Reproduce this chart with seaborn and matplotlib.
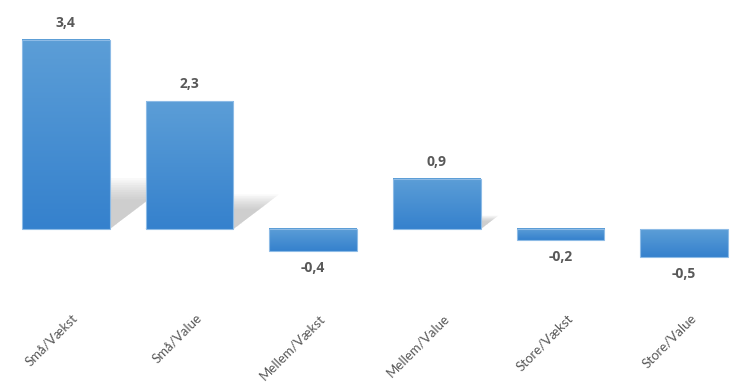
import numpy as np
import matplotlib
matplotlib.use("Agg")
import matplotlib.pyplot as plt
import matplotlib.transforms as mtransforms
from matplotlib.colors import LinearSegmentedColormap
from matplotlib.patches import Polygon
import seaborn as sns

categories = ["Små/Vækst", "Små/Value", "Mellem/Vækst", "Mellem/Value", "Store/Vækst", "Store/Value"]
values = [3.4, 2.3, -0.4, 0.9, -0.2, -0.5]
value_labels = ["3,4", "2,3", "-0,4", "0,9", "-0,2", "-0,5"]

sns.set_style("white")
plt.rcParams["font.family"] = ["Lato", "DejaVu Sans"]

fig = plt.figure(figsize=(7.5, 3.84), dpi=100)
ax = fig.add_axes([4 / 750, 94 / 384, 742 / 750, 280 / 384])

sns.barplot(x=categories, y=values, color="#5B9BD5", width=0.71, ax=ax,
            edgecolor="#8DBBE6", linewidth=0.8, zorder=3)

bar_cmap = LinearSegmentedColormap.from_list("bar", ["#5C9ED7", "#3581CD"])
grad = np.linspace(0, 1, 256).reshape(-1, 1)

for patch, v in zip(ax.patches, values):
    x0 = patch.get_x()
    w = patch.get_width()
    y_lo, y_hi = sorted([patch.get_y(), patch.get_y() + patch.get_height()])
    # gradient fill, lighter at the top
    ax.imshow(grad, extent=[x0, x0 + w, y_lo, y_hi], aspect="auto",
              cmap=bar_cmap, origin="upper", zorder=2.5, clip_path=patch)
    patch.set_facecolor("none")
    # soft perspective shadow behind positive bars (stacked layers = blur)
    if v > 0:
        for k in range(10):
            f = 1.08 - 0.05 * k
            hs, dx = 0.25 * v * f, 0.148 * v * f
            ax.add_patch(Polygon([(x0, 0), (x0 + w, 0), (x0 + w + dx, hs), (x0 + dx, hs)],
                                 closed=True, facecolor="#9a9a9a", edgecolor="none",
                                 alpha=0.06, zorder=1))

for i, (v, lab) in enumerate(zip(values, value_labels)):
    off = 7 if v > 0 else -7
    ax.annotate(lab, (i, v), xytext=(0, off), textcoords="offset points",
                ha="center", va="bottom" if v > 0 else "top",
                fontsize=10, fontweight="bold", color="#595959",
                family=["Open Sans", "DejaVu Sans"])

ax.set_xlim(-0.5, 5.5)
ax.set_ylim(-1.097, 3.94)
ax.set_yticks([])
ax.set_xticks(range(len(categories)))
ax.set_xticklabels(categories, rotation=45, ha="right", va="center",
                   rotation_mode="anchor", fontsize=9.5, color="#595959")
ax.tick_params(axis="x", length=0, pad=0)
shift = mtransforms.ScaledTranslation(10 / 100, -26 / 100, fig.dpi_scale_trans)
for t in ax.get_xticklabels():
    t.set_transform(t.get_transform() + shift)
for s in ax.spines.values():
    s.set_visible(False)
ax.set_xlabel("")
ax.set_ylabel("")

fig.savefig("out.png", dpi=100, facecolor="white")
